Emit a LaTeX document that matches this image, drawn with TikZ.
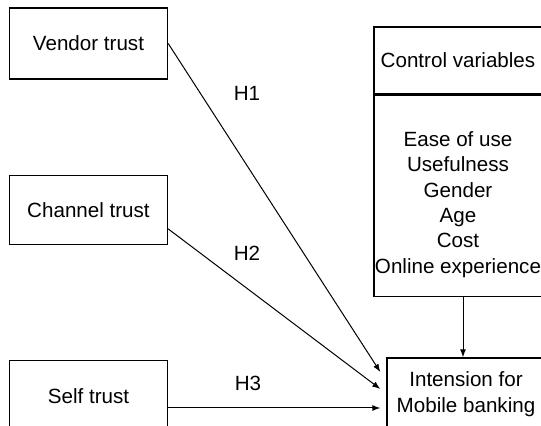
\documentclass[tikz,border=0pt]{standalone}
\usepackage{fontspec}
\setmainfont{Liberation Sans}
\usetikzlibrary{arrows.meta, positioning, calc}

\begin{document}
\begin{tikzpicture}[
  x=0.5pt, y=-0.5pt,
  font=\fontsize{10.3}{12.7}\selectfont,
  every node/.style={align=center},
  block/.style={draw, line width=0.7pt, inner sep=0pt},
  link/.style={->, line width=0.5pt},
  >={Latex[length=4pt, width=3pt]},
]

\useasboundingbox (0,0) rectangle (541,426);
\clip (0,0) rectangle (541,426);

% trust factors
\node [block, minimum width=79pt, minimum height=35.5pt] (vendor) at (88.5,43.5) {Vendor trust};
\node [block, minimum width=79pt, minimum height=34.5pt] (channel) [below=47.5pt of vendor] {Channel trust};
\node [block, minimum width=79pt, minimum height=35pt] (self) [below=57.5pt of channel] {Self trust};

% control variables
\node [block, minimum width=84pt, minimum height=33.5pt] (ctrl_head) at (458,60.5) {Control variables};
\node [block, minimum width=84pt, minimum height=100.5pt] (ctrl_list) [below=0pt of ctrl_head]
  {\rule{0pt}{16pt}Ease of use \\ Usefulness \\ Gender \\ Age \\ Cost \\ Online experience};

% outcome
\node [block, minimum width=79pt, minimum height=36pt] (intension) at (466,394) {Intension for \\ Mobile banking};

% hypotheses
\coordinate (in1) at ($(intension.west)+(-6,-22)$);
\coordinate (in2) at ($(intension.west)+(-6,-5)$);
\coordinate (in3) at ($(intension.west)+(-6,14)$);

\draw[link] (vendor.east) -- (in1);
\draw[link] ($(channel.east)+(0,19)$) -- (in2);
\draw[link] (self.east |- in3) -- (in3);
\draw[link] ([xshift=2.5pt]ctrl_list.south) -- ([xshift=2.5pt]ctrl_list.south |- intension.north);

\node (h1) at (247,93) {H1};
\node (h2) at (247,253) {H2};
\node (h3) at (248,383) {H3};

\end{tikzpicture}
\end{document}
